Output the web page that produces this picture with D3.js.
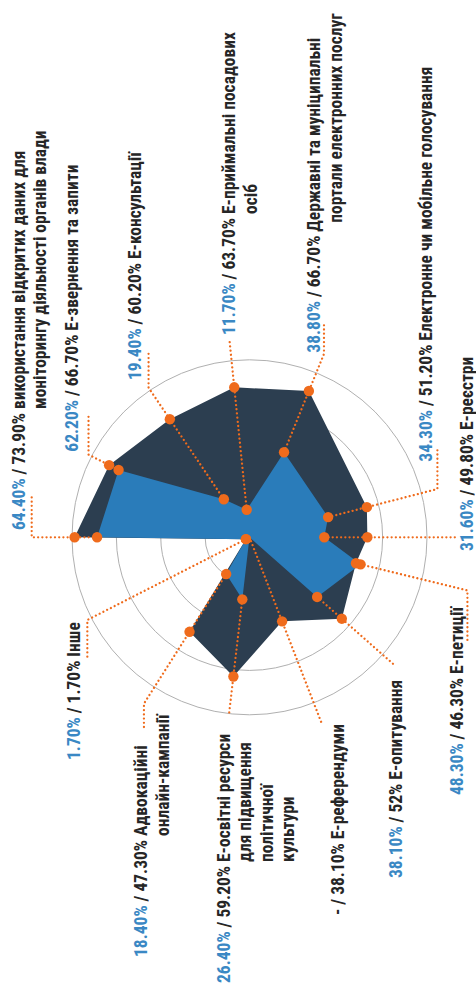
<!DOCTYPE html>
<html><head><meta charset="utf-8">
<script src="https://cdn.jsdelivr.net/npm/d3@7"></script>
<style>
html,body{margin:0;padding:0;background:#fff;}
svg{display:block;}
text{font-family:"Liberation Sans Narrow","Roboto Condensed","DejaVu Sans Condensed",sans-serif;font-size:18.6px;font-weight:bold;}
</style></head><body>
<svg id="c" width="476" height="990"></svg>
<script>
// ---------- data ----------
const categories = [
  ["використання відкритих даних для", "моніторингу діяльності органів влади"],
  ["Е-звернення та запити"],
  ["Е-консультації"],
  ["Е-приймальні посадових", "осіб"],
  ["Державні та муніципальні", "портали електронних послуг"],
  ["Електронне чи мобільне голосування"],
  ["Е-реєстри"],
  ["Е-петиції"],
  ["Е-опитування"],
  ["Е-референдуми"],
  ["Е-освітні ресурси", "для підвищення", "політичної", "культури"],
  ["Адвокаційні", "онлайн-кампанії"],
  ["Інше"]
];
const seriesLight = [64.4, 62.2, 19.4, 11.7, 38.8, 34.3, 31.6, 48.3, 38.1, null, 26.4, 18.4, 1.7];
const seriesDark  = [73.9, 66.7, 60.2, 63.7, 66.7, 51.2, 49.8, 46.3, 52.0, 38.1, 59.2, 47.3, 1.7];
const ringTicks = [18.75, 37.5, 56.25, 75];

// ---------- layout ----------
const cx = 249.5, cy = 537.3, R = 177.5, lineStep = 21.5, squeeze = 0.94;
const axisAngle = [180, 207.2, 236, 264.2, 292.1, 345.6, 0, 13.7, 41.4, 68.8, 96.6, 122.4, 153];
const connector = [[217.8,-40],[181,-39],[180.5,-38],[196.6,0],[198,-32],[194,-40],[207.2,0],[224.3,52],[191.9,0],[202,0],[178.8,0],[197,27],[182,38]];
const labelPos = [[24.5,530,0],[77.5,451.7,0],[140.5,380,0],[235,335,0],[320,352.7,9],[432,461.7,0],[472.5,551,0],[463,795,0],[402,878,0],[343.5,915,0],[229.5,983,0],[147,957,0],[80.3,760,0]];

const C = {dark:"#2c3e50", light:"#2a7cba", orange:"#ef6b1c", ring:"#b0b0b0", blueText:"#3a88c4", text:"#262626"};

const svg = d3.select("#c");
const r = d3.scaleLinear().domain([0, 75]).range([0, R]);
const rad = d => d * Math.PI / 180;
const pt = (i, rr) => [cx + rr * Math.cos(rad(axisAngle[i])), cy + rr * Math.sin(rad(axisAngle[i]))];

// rings
svg.append("g").selectAll("circle").data(ringTicks).join("circle")
  .attr("cx", cx).attr("cy", cy).attr("r", d => r(d))
  .attr("fill", "none").attr("stroke", C.ring).attr("stroke-width", 1);

const poly = d3.line().curve(d3.curveLinearClosed);
svg.append("path").attr("d", poly(seriesDark.map((v, i) => pt(i, r(v || 0))))).attr("fill", C.dark);
svg.append("path").attr("d", poly(seriesLight.map((v, i) => pt(i, r(v || 0))))).attr("fill", C.light);

// connectors
const line = d3.line();
svg.append("g").selectAll("path").data(categories).join("path")
  .attr("d", (c, i) => {
    const inner = Math.min(seriesLight[i] || 0, seriesDark[i]);
    const p0 = pt(i, r(inner));
    const p1 = pt(i, connector[i][0]);
    const pts = [p0, p1];
    if (connector[i][1]) pts.push([p1[0], p1[1] + connector[i][1]]);
    return line(pts);
  })
  .attr("fill", "none").attr("stroke", C.orange).attr("stroke-width", 2.3)
  .attr("stroke-linecap", "round").attr("stroke-dasharray", "0.01 4.2");

// dots
const dots = [];
seriesDark.forEach((v, i) => dots.push(pt(i, r(v))));
seriesLight.forEach((v, i) => { if (v != null) dots.push(pt(i, r(v))); });
svg.append("g").selectAll("circle").data(dots).join("circle")
  .attr("cx", d => d[0]).attr("cy", d => d[1]).attr("r", 5.2).attr("fill", C.orange);

// labels
const fmt = v => (Number.isInteger(v) ? d3.format("d")(v) : d3.format(".2f")(v)) + "%";
const lg = svg.append("g");
categories.forEach((lines, i) => {
  const [x, y, indent] = labelPos[i];
  const t = lg.append("text").attr("transform", `translate(${x},${y}) rotate(-90) scale(${squeeze},1)`);
  const a = seriesLight[i] == null ? "-" : fmt(seriesLight[i]);
  t.append("tspan").attr("fill", seriesLight[i] == null ? C.text : C.blueText).text(a);
  const mid = " / " + fmt(seriesDark[i]) + " ";
  t.append("tspan").attr("fill", C.text).text(mid);
  t.append("tspan").attr("fill", C.text).text(lines[0]);
  const off = t.node().getStartPositionOfChar((a + mid).length).x * squeeze;
  lines.slice(1).forEach((ln, k) => {
    lg.append("text")
      .attr("transform", `translate(${x + (k + 1) * lineStep},${y - off - indent}) rotate(-90) scale(${squeeze},1)`)
      .attr("fill", C.text).text(ln);
  });
});
</script>
</body></html>
